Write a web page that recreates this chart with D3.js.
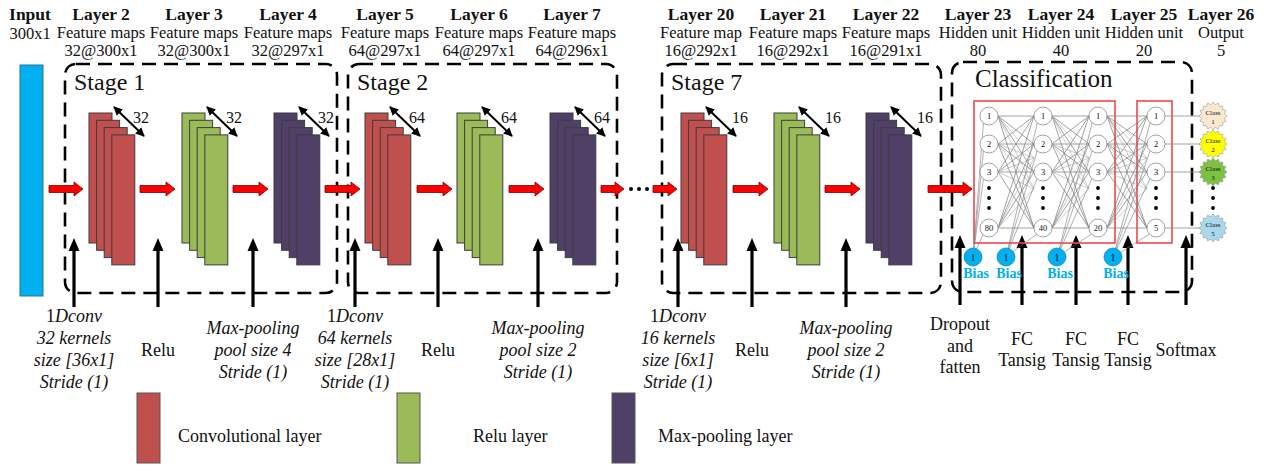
<!DOCTYPE html>
<html><head><meta charset="utf-8">
<script src="https://cdn.jsdelivr.net/npm/d3@7/dist/d3.min.js"></script>
<style>
body{margin:0;background:#fff}
svg{display:block;font-family:'Liberation Serif','DejaVu Serif',serif}
svg text{font-family:'Liberation Serif','DejaVu Serif',serif;fill:#111}
</style>
</head><body>
<svg id="c" width="1272" height="468" font-family="Liberation Serif, serif"></svg>
<script>
// ---------------- data ----------------
const layerNames  = ["Input","Layer 2","Layer 3","Layer 4","Layer 5","Layer 6","Layer 7","Layer 20","Layer 21","Layer 22","Layer 23","Layer 24","Layer 25","Layer 26"];
const layerKinds  = ["","Feature maps","Feature maps","Feature maps","Feature maps","Feature maps","Feature maps","Feature map","Feature maps","Feature maps","Hidden unit","Hidden unit","Hidden unit","Output"];
const layerShapes = ["300x1","32@300x1","32@300x1","32@297x1","64@297x1","64@297x1","64@296x1","16@292x1","16@292x1","16@291x1","80","40","20","5"];
const stageNames  = ["Stage 1","Stage 2","Stage 7","Classification"];
const stackTypes  = ["conv","relu","pool","conv","relu","pool","conv","relu","pool"];
const stackDepths = ["32","32","32","64","64","64","16","16","16"];
const opLabels = [
  ["1Dconv","32 kernels","size [36x1]","Stride (1)"],
  ["Relu"],
  ["Max-pooling","pool size 4","Stride (1)"],
  ["1Dconv","64 kernels","size [28x1]","Stride (1)"],
  ["Relu"],
  ["Max-pooling","pool size 2","Stride (1)"],
  ["1Dconv","16 kernels","size [6x1]","Stride (1)"],
  ["Relu"],
  ["Max-pooling","pool size 2","Stride (1)"],
  ["Dropout","and","fatten"],
  ["FC","Tansig"],
  ["FC","Tansig"],
  ["FC","Tansig"],
  ["Softmax"]
];
const nnSizes     = [80,40,20,5];
const nnRowLabels = ["1","2","3"];
const classIds    = ["1","2","3","5"];
const biasLabel   = "Bias";
const legendTypes  = ["conv","relu","pool"];
const legendLabels = ["Convolutional layer","Relu layer","Max-pooling layer"];

// ---------------- layout / styles ----------------
const FONT = "Liberation Serif, DejaVu Serif, serif";
const svg = d3.select("#c");
svg.append("rect").attr("width",1272).attr("height",468).attr("fill","#fff");
const color = d3.scaleOrdinal().domain(["conv","relu","pool"]).range(["#C0504D","#9BBB59","#503F66"]);
const classColor = d3.scaleOrdinal().domain(classIds).range(["#FBE9CF","#FFFF00","#7DC142","#A9D8EC"]);
function txt(sel){ return sel.append("text").attr("font-family",FONT); }

const defs = svg.append("defs");
defs.append("marker").attr("id","dh").attr("viewBox","0 0 10 10").attr("refX",9).attr("refY",5)
  .attr("markerWidth",4.5).attr("markerHeight",4.5).attr("orient","auto-start-reverse")
  .append("path").attr("d","M0,0L10,5L0,10Z").attr("fill","#000");

// headers
const headerX = d3.scaleOrdinal().domain(layerNames).range([30,101,194,288,385,479,572,701,793,886,978,1061,1144,1221]);
const hdr = svg.append("g");
layerNames.forEach((n,i)=>{
  const x = headerX(n);
  txt(hdr).attr("x",x).attr("y",20).attr("text-anchor","middle")
    .attr("font-weight","bold").attr("font-size",17.5).text(n);
  if(i===0){
    txt(hdr).attr("x",x).attr("y",39).attr("text-anchor","middle").attr("font-size",16.5).text(layerShapes[i]);
  } else {
    txt(hdr).attr("x",x).attr("y",38).attr("text-anchor","middle").attr("font-size",16.5).text(layerKinds[i]);
    txt(hdr).attr("x",x).attr("y",56).attr("text-anchor","middle").attr("font-size",16.5).text(layerShapes[i]);
  }
});

// stage boxes
const stageBox = [[65,64,337,293],[348,64,617,293],[662,64,941,293],[952,62,1192,292]];
const stageG = svg.append("g");
stageNames.forEach((s,i)=>{
  const b = stageBox[i];
  stageG.append("rect").attr("x",b[0]).attr("y",b[1]).attr("width",b[2]-b[0]).attr("height",b[3]-b[1])
    .attr("rx",11).attr("fill","none").attr("stroke","#000").attr("stroke-width",2.6).attr("stroke-dasharray","14,8");
  txt(stageG).attr("x",b[0]+ (i===3?23:9)).attr("y",b[1]+(i===3?25:26))
    .attr("font-size",i===3?25:24).text(s);
});

// input bar
svg.append("rect").attr("x",20).attr("y",65).attr("width",23).attr("height",231)
  .attr("fill","#00B0F0").attr("stroke","#2f6f9a").attr("stroke-width",1);

// feature map stacks
const stackX = [89,182,274,365,457,550,681,774,866];
const sTop=113, rW=23, rH=130, ddx=7.6, ddy=7.3;
const stG = svg.append("g");
stackTypes.forEach((t,i)=>{
  const x0 = stackX[i];
  d3.range(4).forEach(k=>{
    stG.append("rect").attr("x",x0+k*ddx).attr("y",sTop+k*ddy).attr("width",rW).attr("height",rH)
      .attr("fill",color(t)).attr("stroke","#3d3d3d").attr("stroke-width",1);
  });
  stG.append("line").attr("x1",x0+25).attr("y1",sTop-6).attr("x2",x0+55).attr("y2",sTop+23)
    .attr("stroke","#000").attr("stroke-width",2)
    .attr("marker-start","url(#dh)").attr("marker-end","url(#dh)");
  txt(stG).attr("x",x0+(i>=6?51:44)).attr("y",sTop+10).attr("font-size",16).text(stackDepths[i]);
});

// red block arrows
const redArrows = [[49,83],[140,175],[233,268],[325,360],[417,452],[509,544],[601,624],[653,677],[733,768],[825,860],[928,972]];
const ay = 189;
redArrows.forEach(([a,b])=>{
  const h=b-9;
  svg.append("path").attr("d",`M${a},${ay-3.5}L${h},${ay-3.5}L${h},${ay-7}L${b},${ay}L${h},${ay+7}L${h},${ay+3.5}L${a},${ay+3.5}Z`)
    .attr("fill","#FF0000").attr("stroke","#7a0000").attr("stroke-width",0.8);
});
[631,639,647].forEach(x=>svg.append("circle").attr("cx",x).attr("cy",ay).attr("r",2).attr("fill","#000"));

// black up arrows
const upX = [74,158,253,355,438,538,678,752,846,960,1022,1076,1128,1186];
upX.forEach((x,i)=>{
  const tip = i>=9?235:238, bot = i>=9?305:307;
  svg.append("line").attr("x1",x).attr("y1",bot).attr("x2",x).attr("y2",tip+10)
    .attr("stroke","#000").attr("stroke-width",3.2);
  svg.append("path").attr("d",`M${x},${tip}L${x+5.5},${tip+13}L${x-5.5},${tip+13}Z`).attr("fill","#000");
});

// operation labels
const opFirst = [322,356,334,322,356,334,322,356,334,330,345,345,345,356];
const opStep  = [22,22,22,22,22,22,22,22,22,21.5,21,21,21,22];
opLabels.forEach((lines,i)=>{
  const x = upX[i];
  const italic = !(lines[0]==="Relu"||i>=9);
  lines.forEach((ln,j)=>{
    const t = txt(svg).attr("x",x).attr("y",opFirst[i]+j*opStep[i]).attr("text-anchor","middle").attr("font-size",18);
    if(ln==="1Dconv"){
      t.append("tspan").text("1");
      t.append("tspan").attr("font-style","italic").text("Dconv");
    } else {
      t.attr("font-style",italic?"italic":"normal").text(ln);
    }
  });
});

// ---------------- classification network ----------------
const nnG = svg.append("g");
const colX = [989,1043,1098,1156];
const rowY = d3.scaleLinear().domain([0,4]).range([116,228]);
const rowsShown = [0,1,2,4];
nnG.append("rect").attr("x",974).attr("y",101).attr("width",141).attr("height",142).attr("fill","none").attr("stroke","#F0474C").attr("stroke-width",1.6);
nnG.append("rect").attr("x",1137).attr("y",101).attr("width",35).attr("height",142).attr("fill","none").attr("stroke","#F0474C").attr("stroke-width",1.6);
const nr = 9;
for(let c=0;c<3;c++){
  rowsShown.forEach(r1=>rowsShown.forEach(r2=>{
    nnG.append("line").attr("x1",colX[c]+nr).attr("y1",rowY(r1)).attr("x2",colX[c+1]-nr).attr("y2",rowY(r2))
      .attr("stroke","#7a7a7a").attr("stroke-width",0.7);
  }));
  rowsShown.forEach(r1=>[1.5,2.6].forEach(r2=>{
    nnG.append("line").attr("x1",colX[c]+nr).attr("y1",rowY(r1)).attr("x2",colX[c+1]-nr).attr("y2",rowY(r2))
      .attr("stroke","#9a9a9a").attr("stroke-width",0.5);
  }));
}
const biasX = [973,1006,1057,1113];
biasX.forEach((bx,i)=>{
  rowsShown.forEach(r=>{
    nnG.append("line").attr("x1",bx).attr("y1",257).attr("x2",colX[i]-nr*0.6).attr("y2",rowY(r)+nr*0.6)
      .attr("stroke","#7a7a7a").attr("stroke-width",0.6);
  });
});
rowsShown.forEach(r=>{
  nnG.append("line").attr("x1",colX[3]+nr).attr("y1",rowY(r)).attr("x2",1200).attr("y2",rowY(r))
    .attr("stroke","#8a8a8a").attr("stroke-width",0.8);
});
nnSizes.forEach((n,c)=>{
  rowsShown.forEach((r,k)=>{
    nnG.append("circle").attr("cx",colX[c]).attr("cy",rowY(r)).attr("r",nr).attr("fill","#fff").attr("stroke","#8a8a8a").attr("stroke-width",0.8);
    txt(nnG).attr("x",colX[c]).attr("y",rowY(r)+3).attr("text-anchor","middle").attr("font-size",8.5)
      .text(k<3?nnRowLabels[k]:String(n));
  });
  [188,198,208].forEach(y=>nnG.append("circle").attr("cx",colX[c]).attr("cy",y).attr("r",1.9).attr("fill","#000"));
});
biasX.forEach(bx=>{
  nnG.append("circle").attr("cx",bx).attr("cy",257).attr("r",9).attr("fill","#00B0F0").attr("stroke","#1a86b8").attr("stroke-width",0.8);
  txt(nnG).attr("x",bx).attr("y",261).attr("text-anchor","middle").attr("font-size",10).text("1");
  txt(nnG).attr("x",bx+3).attr("y",278).attr("text-anchor","middle").attr("font-size",14)
    .attr("font-weight","bold").style("fill","#00B0F0").text(biasLabel);
});
const starPts = d3.range(32).map(k=>{
  const a = k*Math.PI/16, rr = k%2?11.5:14;
  return [Math.sin(a)*rr, -Math.cos(a)*rr];
});
classIds.forEach((id,k)=>{
  const y = rowY(rowsShown[k]), x=1213;
  nnG.append("path").attr("transform",`translate(${x},${y})`).attr("d",d3.line()(starPts)+"Z")
    .attr("fill",classColor(id)).attr("stroke","#9a9a9a").attr("stroke-width",0.6);
  txt(nnG).attr("x",x).attr("y",y-1).attr("text-anchor","middle").attr("font-size",7).text("Class");
  txt(nnG).attr("x",x).attr("y",y+8).attr("text-anchor","middle").attr("font-size",7).text(id);
});
[188,198,208].forEach(y=>nnG.append("circle").attr("cx",1213).attr("cy",y).attr("r",1.9).attr("fill","#000"));

// ---------------- legend ----------------
const legRectX = [137,397,612];
const legTextX = [178,473,658];
legendTypes.forEach((t,i)=>{
  svg.append("rect").attr("x",legRectX[i]).attr("y",393).attr("width",23).attr("height",70)
    .attr("fill",color(t)).attr("stroke","#555").attr("stroke-width",1);
  txt(svg).attr("x",legTextX[i]).attr("y",442).attr("font-size",18).text(legendLabels[i]);
});
</script>
</body></html>
